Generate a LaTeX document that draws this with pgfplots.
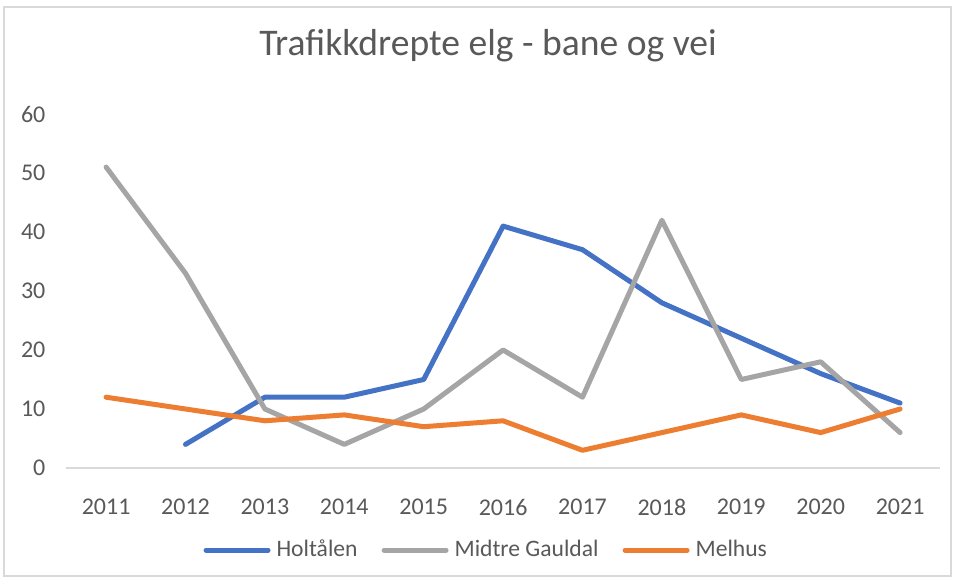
\documentclass[border=0pt]{standalone}
\usepackage{fontspec}
\setmainfont{Carlito}
\usepackage{pgfplots}
\pgfplotsset{compat=1.18}
\definecolor{cblue}{HTML}{4472C4}
\definecolor{cgray}{HTML}{A5A5A5}
\definecolor{corange}{HTML}{ED7D31}
\definecolor{ctext}{HTML}{595959}
\definecolor{cgrid}{HTML}{D9D9D9}
\begin{document}
\begin{tikzpicture}[x=1pt,y=1pt]
\fill[white] (0,0) rectangle (477,289.5);
\draw[cgrid,line width=0.8pt] (2,1.5) rectangle (475.5,286);
\node[text=ctext,font=\fontsize{18.8}{22}\selectfont] at (244,266.5) {Trafikkdrepte elg - bane og vei};
\begin{axis}[
  at={(33.2pt,55.5pt)}, anchor=south west,
  scale only axis, width=436.7pt, height=177pt,
  xmin=-0.5, xmax=10.5, ymin=0, ymax=60,
  xtick={0,...,10},
  xticklabels={2011,2012,2013,2014,2015,2016,2017,2018,2019,2020,2021},
  ytick={0,10,...,60},
  axis x line*=bottom, axis y line*=left,
  x axis line style={cgrid,line width=0.7pt,-},
  y axis line style={draw=none},
  major tick length=0pt,
  tick label style={text=ctext,font=\fontsize{12}{14}\selectfont},
  /pgf/number format/assume math mode=true,
  xticklabel style={yshift=-12pt},
  yticklabel style={xshift=-7pt},
  clip=false,
  legend columns=3,
  legend style={at={(0.483,-0.232)},anchor=center,draw=none,fill=none,
    font=\fontsize{11.8}{13}\selectfont,text=ctext,
    /tikz/every odd column/.append style={column sep=0pt},
    /tikz/every even column/.append style={column sep=9pt},
    nodes={inner xsep=3pt}},
  legend image code/.code={\draw[#1,line cap=round] (0pt,0pt) -- (31pt,0pt);},
  every axis plot/.append style={line width=2.5pt,line join=round,line cap=round,no markers},
]
\addplot[cblue] coordinates {(1,4) (2,12) (3,12) (4,15) (5,41) (6,37) (7,28) (8,22) (9,16) (10,11)};
\addlegendentry{Holtålen}
\addplot[cgray] coordinates {(0,51) (1,33) (2,10) (3,4) (4,10) (5,20) (6,12) (7,42) (8,15) (9,18) (10,6)};
\addlegendentry{Midtre Gauldal}
\addplot[corange] coordinates {(0,12) (1,10) (2,8) (3,9) (4,7) (5,8) (6,3) (7,6) (8,9) (9,6) (10,10)};
\addlegendentry{Melhus}
\end{axis}
\end{tikzpicture}
\end{document}
